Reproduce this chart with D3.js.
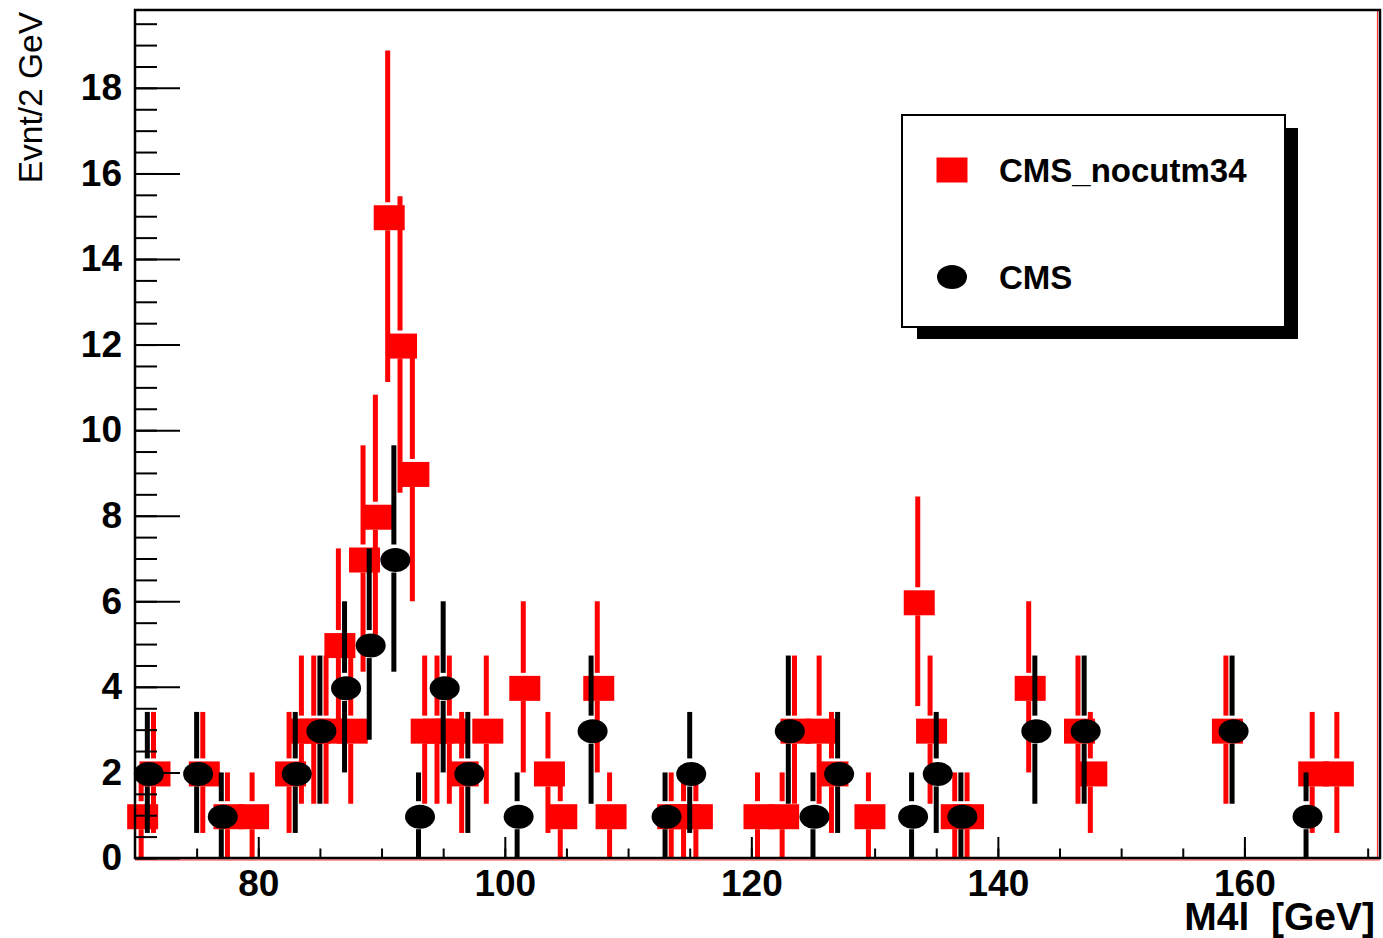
<!DOCTYPE html>
<html><head><meta charset="utf-8">
<script src="https://cdn.jsdelivr.net/npm/d3@7"></script>
<style>
body{margin:0;background:#fff;}
text{font-family:"Liberation Sans",Arial,Helvetica,sans-serif;}
</style>
</head><body>
<svg id="c" width="1383" height="938"></svg>
<script>
// ---- data ----
const redX = [70.5, 71.5, 75.5, 77.5, 79.5, 82.5, 83.5, 84.5, 85.5, 86.5, 87.5, 88.5, 89.5, 90.5, 91.5, 92.5, 93.5, 94.5, 95.5, 96.5, 98.5, 101.5, 103.5, 104.5, 107.5, 108.5, 113.5, 114.5, 115.5, 120.5, 122.5, 123.5, 125.5, 126.5, 129.5, 133.5, 134.5, 136.5, 137.5, 142.5, 146.5, 147.5, 158.5, 165.5, 167.5];
const redY = [1, 2, 2, 1, 1, 2, 3, 3, 3, 5, 3, 7, 8, 15, 12, 9, 3, 3, 3, 2, 3, 4, 2, 1, 4, 1, 1, 1, 1, 1, 1, 3, 3, 2, 1, 6, 3, 1, 1, 4, 3, 2, 3, 2, 2];
const blackX = [71, 75, 77, 83, 85, 87, 89, 91, 93, 95, 97, 101, 107, 113, 115, 123, 125, 127, 133, 135, 137, 143, 147, 159, 165];
const blackY = [2, 2, 1, 2, 3, 4, 5, 7, 1, 4, 2, 1, 3, 1, 2, 3, 1, 2, 1, 2, 1, 3, 3, 3, 1];
const xTickLabels = [80, 100, 120, 140, 160];
const xMinorTicks = d3.range(75, 171, 5);
const yTickLabels = [0, 2, 4, 6, 8, 10, 12, 14, 16, 18];
const yMinorTicks = d3.range(0, 19.6, 0.5);
const seriesNames = ["CMS_nocutm34", "CMS"];
const xTitle = "M4l  [GeV]";
const yTitle = "Evnt/2 GeV";

// ---- layout ----
const svg = d3.select("#c");
const L = 135, R = 1380, T = 10, B = 858;
const x = d3.scaleLinear().domain([70, 171]).range([L, R]);
const y = d3.scaleLinear().domain([0, 19.82]).range([B, T]);

svg.append("rect").attr("width", 1383).attr("height", 938).attr("fill", "#fff");

// red frame tint
svg.append("line").attr("x1", L).attr("x2", R).attr("y1", B + 2).attr("y2", B + 2)
  .attr("stroke", "#ff0000").attr("stroke-width", 1.2).attr("opacity", 0.8);
svg.append("line").attr("x1", R - 2.5).attr("x2", R - 2.5).attr("y1", T).attr("y2", B)
  .attr("stroke", "#ff0000").attr("stroke-width", 1.2).attr("opacity", 0.8);

const MW = 31, MH = 25, MOFF = 1.5, GAP = 14, BW = 5;

function drawSeries(xs, ys, color, shape) {
  const pts = xs.map((v, i) => ({x: v, y: ys[i], e: Math.sqrt(ys[i])}));
  const g = svg.append("g");
  g.selectAll("line.up").data(pts).enter().append("line")
    .attr("x1", d => x(d.x)).attr("x2", d => x(d.x))
    .attr("y1", d => y(d.y + d.e)).attr("y2", d => y(d.y) - GAP)
    .attr("stroke", color).attr("stroke-width", BW);
  g.selectAll("line.dn").data(pts).enter().append("line")
    .attr("x1", d => x(d.x)).attr("x2", d => x(d.x))
    .attr("y1", d => y(d.y) + GAP).attr("y2", d => y(Math.max(0, d.y - d.e)))
    .attr("stroke", color).attr("stroke-width", BW);
  if (shape === "square") {
    g.selectAll("rect").data(pts).enter().append("rect")
      .attr("x", d => x(d.x) + MOFF - MW / 2).attr("y", d => y(d.y) + MOFF - MH / 2)
      .attr("width", MW).attr("height", MH).attr("fill", color);
  } else {
    g.selectAll("ellipse").data(pts).enter().append("ellipse")
      .attr("cx", d => x(d.x) + MOFF).attr("cy", d => y(d.y) + MOFF)
      .attr("rx", MW / 2 - 0.5).attr("ry", MH / 2 - 0.5).attr("fill", color);
  }
}
drawSeries(redX, redY, "#ff0000", "square");
drawSeries(blackX, blackY, "#000000", "circle");

// ---- axes ----
const yMajor = d3.axisLeft(y).tickValues(yTickLabels).tickSize(-45).tickPadding(13).tickFormat(d3.format("d"));
const yMinor = d3.axisLeft(y).tickValues(yMinorTicks).tickSize(-22).tickFormat("");
const xMajor = d3.axisBottom(x).tickValues(xTickLabels).tickSize(-21).tickPadding(12).tickFormat(d3.format("d"));
const xMinor = d3.axisBottom(x).tickValues(xMinorTicks).tickSize(-9.5).tickFormat("");

function styleAxis(g) {
  g.select(".domain").remove();
  g.selectAll(".tick line").attr("stroke", "#000").attr("stroke-width", 2);
  g.selectAll(".tick text").attr("fill", "#000").attr("font-size", 37).attr("font-weight", "bold")
    .attr("font-family", "Liberation Sans, Arial, sans-serif");
}
svg.append("g").attr("transform", `translate(${L},0)`).call(yMinor).call(styleAxis);
svg.append("g").attr("transform", `translate(${L},0)`).call(yMajor).call(styleAxis);
svg.append("g").attr("transform", `translate(0,${B})`).call(xMinor).call(styleAxis);
svg.append("g").attr("transform", `translate(0,${B})`).call(xMajor).call(styleAxis);

// frame
svg.append("rect").attr("x", L).attr("y", T).attr("width", R - L).attr("height", B - T)
  .attr("fill", "none").attr("stroke", "#000").attr("stroke-width", 2.5);

// titles
svg.append("text").attr("x", 1375).attr("y", 930).attr("text-anchor", "end")
  .attr("font-size", 39).attr("font-weight", "bold").style("white-space", "pre")
  .text(xTitle);
svg.append("text").attr("transform", "translate(42,12) rotate(-90)").attr("text-anchor", "end")
  .attr("font-size", 33.5).text(yTitle);

// ---- legend ----
const lg = svg.append("g");
lg.append("rect").attr("x", 917).attr("y", 128).attr("width", 381).attr("height", 211).attr("fill", "#000");
lg.append("rect").attr("x", 902).attr("y", 115).attr("width", 383).attr("height", 212)
  .attr("fill", "#fff").attr("stroke", "#000").attr("stroke-width", 2);
lg.append("rect").attr("x", 952 - MW / 2).attr("y", 170 - MH / 2).attr("width", MW).attr("height", MH).attr("fill", "#ff0000");
lg.append("ellipse").attr("cx", 952).attr("cy", 277).attr("rx", MW / 2 - 0.5).attr("ry", MH / 2 - 0.5).attr("fill", "#000");
lg.selectAll("text.leg").data(seriesNames).enter().append("text")
  .attr("x", 999).attr("y", (d, i) => i === 0 ? 182 : 289)
  .attr("font-size", 33).attr("font-weight", "bold").attr("fill", "#000").text(d => d);
</script>
</body></html>
